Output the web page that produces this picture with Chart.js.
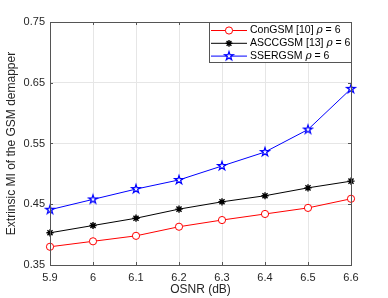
<!DOCTYPE html>
<html><head><meta charset="utf-8">
<script src="https://cdn.jsdelivr.net/npm/chart.js@4/dist/chart.umd.min.js"></script>
<style>html,body{margin:0;padding:0;background:#fff}#wrap{width:388px;height:298px}</style>
</head><body><div id="wrap"><canvas id="c" width="388" height="298"></canvas></div>
<script>
const osnr = ['5.9','6','6.1','6.2','6.3','6.4','6.5','6.6'];
const conGSM  = [0.380,0.389,0.398,0.413,0.424,0.434,0.444,0.459];
const asccGSM = [0.403,0.415,0.427,0.442,0.454,0.464,0.477,0.488];
const sserGSM = [0.441,0.458,0.475,0.490,0.513,0.536,0.573,0.640];
const yTicks = [0.35,0.45,0.55,0.65,0.75];
const seriesNames = ['ConGSM [10] ', 'ASCCGSM [13] ', 'SSERGSM '];
const rhoText = ['\u03C1', ' = 6'];

const FONT = 'Liberation Sans, Arial, Helvetica, sans-serif';
const AX = '#262626';

function makePentagram(color, r) {
  const s = Math.ceil(r * 2 + 4);
  const cv = document.createElement('canvas');
  cv.width = s; cv.height = s;
  const g = cv.getContext('2d');
  const cx = s / 2, cy = s / 2, ri = r * 0.382;
  g.beginPath();
  for (let i = 0; i < 10; i++) {
    const rr = i % 2 === 0 ? r : ri;
    const a = -Math.PI / 2 + i * Math.PI / 5;
    const x = cx + rr * Math.cos(a), y = cy + rr * Math.sin(a);
    if (i === 0) g.moveTo(x, y); else g.lineTo(x, y);
  }
  g.closePath();
  g.fillStyle = '#ffffff';
  g.fill();
  g.strokeStyle = color;
  g.lineWidth = 1.2;
  g.stroke();
  return cv;
}
const pent = makePentagram('#0000ff', 4.6);

const boxPlugin = {
  id: 'boxPlugin',
  afterDatasetsDraw(chart) {
    const {ctx, chartArea: a, scales} = chart;
    ctx.save();
    ctx.strokeStyle = '#555';
    ctx.lineWidth = 1;
    ctx.strokeRect(Math.round(a.left) + 0.5, Math.round(a.top) + 0.5, Math.round(a.right - a.left), Math.round(a.bottom - a.top));
    ctx.beginPath();
    const tl = 3;
    osnr.forEach((_, i) => {
      const x = Math.round(scales.x.getPixelForValue(i)) + 0.5;
      ctx.moveTo(x, a.bottom); ctx.lineTo(x, a.bottom - tl);
      ctx.moveTo(x, a.top); ctx.lineTo(x, a.top + tl);
    });
    yTicks.forEach(v => {
      const y = Math.round(scales.y.getPixelForValue(v)) + 0.5;
      ctx.moveTo(a.left, y); ctx.lineTo(a.left + tl, y);
      ctx.moveTo(a.right, y); ctx.lineTo(a.right - tl, y);
    });
    ctx.stroke();

    // legend
    const lw = 142, lh = 40;
    const lx = Math.round(a.right) - lw, ly = Math.round(a.top);
    ctx.fillStyle = '#fff';
    ctx.fillRect(lx, ly, lw, lh);
    ctx.strokeStyle = '#555';
    ctx.strokeRect(lx + 0.5, ly + 0.5, lw, lh);
    chart.data.datasets.forEach((ds, i) => {
      const y = ly + 8.5 + i * 12.8;
      ctx.strokeStyle = ds.borderColor;
      ctx.lineWidth = 1;
      ctx.beginPath();
      ctx.moveTo(lx + 2, y); ctx.lineTo(lx + 38, y);
      ctx.stroke();
      const mx = lx + 20;
      if (i === 0) {
        ctx.beginPath(); ctx.arc(mx, y, 3.6, 0, Math.PI * 2);
        ctx.fillStyle = '#fff'; ctx.fill(); ctx.stroke();
      } else if (i === 1) {
        ctx.lineWidth = 1.4;
        ctx.beginPath();
        const r = 3.4;
        for (let k = 0; k < 4; k++) {
          const ang = k * Math.PI / 4;
          ctx.moveTo(mx - r * Math.cos(ang), y - r * Math.sin(ang));
          ctx.lineTo(mx + r * Math.cos(ang), y + r * Math.sin(ang));
        }
        ctx.stroke();
      } else {
        ctx.drawImage(pent, mx - pent.width / 2, y - pent.height / 2);
      }
      ctx.fillStyle = '#000';
      ctx.textBaseline = 'middle';
      ctx.textAlign = 'left';
      ctx.font = '10.5px ' + FONT;
      let tx = lx + 41;
      ctx.fillText(seriesNames[i], tx, y);
      tx += ctx.measureText(seriesNames[i]).width;
      ctx.font = 'italic 10.5px DejaVu Serif, serif';
      ctx.fillText(rhoText[0], tx, y);
      tx += ctx.measureText(rhoText[0]).width;
      ctx.font = '10.5px ' + FONT;
      ctx.fillText(rhoText[1], tx, y);
    });
    ctx.restore();
  }
};

new Chart(document.getElementById('c'), {
  type: 'line',
  data: {
    labels: osnr,
    datasets: [
      {label: seriesNames[0], data: conGSM, borderColor: '#ff0000', backgroundColor: '#ffffff',
       borderWidth: 1, pointStyle: 'circle', pointRadius: 3.6, pointBorderWidth: 1, pointBorderColor: '#ff0000', pointBackgroundColor: 'rgba(255,255,255,1)'},
      {label: seriesNames[1], data: asccGSM, borderColor: '#000000', backgroundColor: '#000000',
       borderWidth: 1, pointStyle: 'star', pointRadius: 3.6, pointBorderWidth: 1.4, pointBorderColor: '#000000'},
      {label: seriesNames[2], data: sserGSM, borderColor: '#0000ff', backgroundColor: '#0000ff',
       borderWidth: 1, pointStyle: pent, pointRadius: 5}
    ]
  },
  options: {
    responsive: false,
    animation: false,
    devicePixelRatio: 1,
    layout: {padding: {left: 0, top: 22, right: 37, bottom: 0}},
    plugins: {legend: {display: false}, tooltip: {enabled: false}},
    elements: {line: {tension: 0}},
    scales: {
      x: {
        type: 'category',
        offset: false,
        grid: {color: '#e6e6e6', drawTicks: false},
        border: {display: false},
        ticks: {color: AX, font: {family: FONT, size: 11}, padding: 6, maxRotation: 0, autoSkip: false},
        title: {display: true, text: 'OSNR (dB)', color: AX, font: {family: FONT, size: 12}, padding: {top: 0, bottom: 0.8}},
        afterFit(s) { s.height = 33; }
      },
      y: {
        type: 'linear',
        min: 0.35, max: 0.75,
        grid: {color: '#e6e6e6', drawTicks: false},
        border: {display: false},
        afterBuildTicks(s) { s.ticks = yTicks.map(v => ({value: v})); },
        ticks: {color: AX, font: {family: FONT, size: 11}, padding: 5,
                callback: (v) => v.toFixed(2)},
        title: {display: true, text: 'Extrinsic MI of the GSM demapper', color: AX, font: {family: FONT, size: 12}, padding: {top: 4.8, bottom: 0}},
        afterFit(s) { s.width = 50; }
      }
    }
  },
  plugins: [boxPlugin]
});
</script>
</body></html>
